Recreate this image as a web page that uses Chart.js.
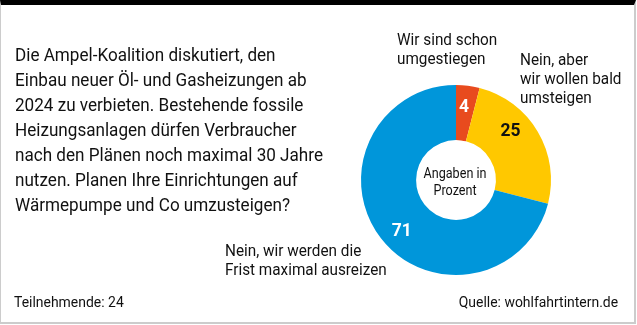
<!DOCTYPE html>
<html><head><meta charset="utf-8">
<script src="https://cdn.jsdelivr.net/npm/chart.js@4/dist/chart.umd.min.js"></script>
<style>
html,body{margin:0;padding:0;background:#fff;}
#wrap{position:relative;width:637px;height:325px;overflow:hidden;font-family:Roboto,"Liberation Sans",sans-serif;color:#111;}
#c{position:absolute;left:0;top:0;}
.t{position:absolute;white-space:nowrap;transform:scaleX(0.9);transform-origin:0 0;}
#foot2{transform-origin:100% 0;}
#frame{position:absolute;left:0;top:0;width:636px;height:324px;box-sizing:border-box;border-left:1px solid #ccc;border-right:2px solid #ccc;border-bottom:2px solid #ccc;border-top:5px solid #000;}
</style></head><body>
<div id="wrap">
<canvas id="c" width="637" height="325"></canvas>
<div id="frame"></div>
<div class="t" id="q" style="left:15px;top:42px;font-size:19px;line-height:25px;"></div>
<div class="t" id="l0" style="left:397px;top:30px;font-size:17px;line-height:19px;"></div>
<div class="t" id="l1" style="left:520px;top:50px;font-size:17px;line-height:19px;"></div>
<div class="t" id="l2" style="left:225px;top:241px;font-size:17px;line-height:19px;"></div>
<div class="t" id="foot1" style="left:14px;top:293px;font-size:15.5px;line-height:19px;"></div>
<div class="t" id="foot2" style="right:19px;top:293px;font-size:15.5px;line-height:19px;"></div>
</div>
<script>
const question = ["Die Ampel-Koalition diskutiert, den","Einbau neuer Öl- und Gasheizungen ab","2024 zu verbieten. Bestehende fossile","Heizungsanlagen dürfen Verbraucher","nach den Plänen noch maximal 30 Jahre","nutzen. Planen Ihre Einrichtungen auf","Wärmepumpe und Co umzusteigen?"];
const categories = [["Wir sind schon","umgestiegen"],["Nein, aber","wir wollen bald","umsteigen"],["Nein, wir werden die","Frist maximal ausreizen"]];
const values = [4, 25, 71];
const centerText = ["Angaben in","Prozent"];
const participants = "Teilnehmende: 24";
const source = "Quelle: wohlfahrtintern.de";

const colors = ["#e84b1e","#ffc800","#0096da"];
const labelColors = ["#fff","#111","#fff"];
const labelAngleShift = [-1, -12, -5]; // degrees
const labelRadius = 74;

document.getElementById('q').innerHTML = question.join('<br>');
['l0','l1','l2'].forEach((id,i)=>document.getElementById(id).innerHTML = categories[i].join('<br>'));
document.getElementById('foot1').textContent = participants;
document.getElementById('foot2').textContent = source;

function condensedText(ctx, txt, x, y, sx){
  ctx.save(); ctx.translate(x,y); ctx.scale(sx,1); ctx.fillText(txt,0,0); ctx.restore();
}

const valueLabels = {
  id:'valueLabels',
  afterDatasetsDraw(chart){
    const ctx = chart.ctx;
    const meta = chart.getDatasetMeta(0);
    ctx.save();
    ctx.textAlign='center'; ctx.textBaseline='middle';
    meta.data.forEach((arc,i)=>{
      const p = arc.getProps(['x','y','startAngle','endAngle'],true);
      const a = (p.startAngle+p.endAngle)/2 + labelAngleShift[i]*Math.PI/180;
      ctx.font = 'bold 19px Roboto, sans-serif';
      ctx.fillStyle = labelColors[i];
      condensedText(ctx, String(values[i]), p.x + Math.cos(a)*labelRadius, p.y + Math.sin(a)*labelRadius+1, 0.92);
    });
    const a0 = meta.data[0];
    ctx.fillStyle = '#111';
    ctx.font = '14px Roboto, sans-serif';
    condensedText(ctx, centerText[0], a0.x-1, a0.y-6, 0.9);
    condensedText(ctx, centerText[1], a0.x-1, a0.y+11, 0.9);
    ctx.restore();
  }
};

new Chart(document.getElementById('c'), {
  type:'doughnut',
  data:{labels:categories.map(c=>c.join(' ')), datasets:[{data:values, backgroundColor:colors, borderWidth:0, hoverOffset:0}]},
  options:{
    responsive:false, animation:false, cutout:'42%',
    layout:{padding:{left:361,right:86,top:85,bottom:50}},
    plugins:{legend:{display:false}, tooltip:{enabled:false}}
  },
  plugins:[valueLabels]
});
</script>
</body></html>
